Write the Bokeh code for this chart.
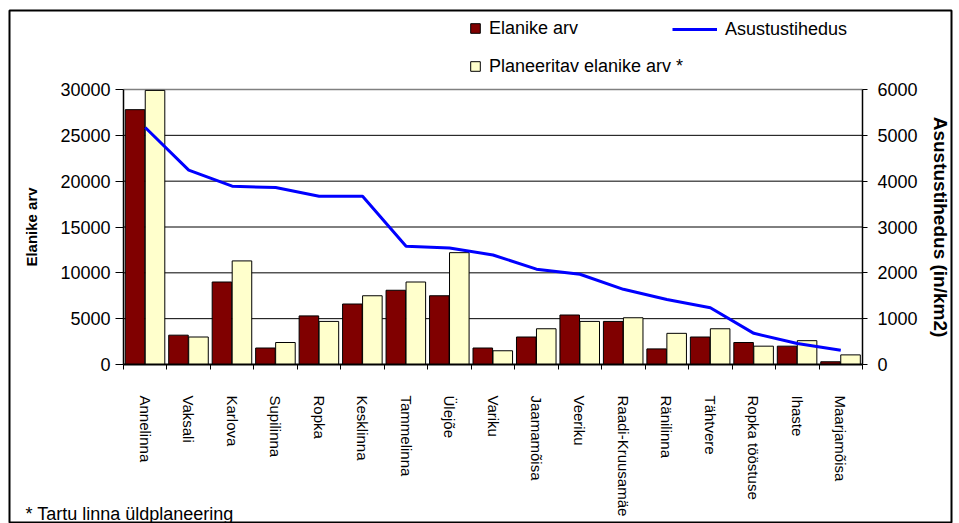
from bokeh.plotting import figure
from bokeh.models import (ColumnDataSource, Range1d, LinearAxis, FixedTicker,
                          Legend, LegendItem, Label)
from bokeh.transform import dodge
from bokeh.embed import file_html
from bokeh.resources import INLINE

categories = ["Annelinna", "Vaksali", "Karlova", "Supilinna", "Ropka", "Kesklinna",
              "Tammelinna", "Ülejõe", "Variku", "Jaamamõisa", "Veeriku",
              "Raadi-Kruusamäe", "Ränilinna", "Tähtvere", "Ropka tööstuse",
              "Ihaste", "Maarjamõisa"]
elanike = [27800, 3200, 9000, 1800, 5300, 6600, 8100, 7500, 1800, 3000, 5400,
           4700, 1700, 3000, 2400, 2000, 300]
planeeritav = [29900, 3000, 11300, 2400, 4700, 7500, 9000, 12200, 1500, 3900, 4700,
               5100, 3400, 3900, 2000, 2600, 1050]
tihedus = [5170, 4240, 3890, 3860, 3670, 3670, 2580, 2540, 2390, 2080, 1970,
           1640, 1420, 1240, 680, 460, 310]
left_ticks = [0, 5000, 10000, 15000, 20000, 25000, 30000]
right_ticks = [0, 1000, 2000, 3000, 4000, 5000, 6000]

FONT = "Liberation Sans"

# ---- layout (pixels in the page) ----
W, H = 959, 523
BOX_L, BOX_T, BOX_R, BOX_B = 9, 10, 951, 523      # outer chart box (= frame)
PL, PR, PT, PB = 123, 862, 89, 364                 # plot area inside the box

n = len(categories)
x_lo, x_hi = -0.5, n - 0.5
ux = (PR - PL) / (x_hi - x_lo)
x_start = x_lo - (PL - BOX_L) / ux
x_end = x_hi + (BOX_R - PR) / ux

ymax_l, ymax_r = left_ticks[-1], right_ticks[-1]
uy_l = (PB - PT) / ymax_l
uy_r = (PB - PT) / ymax_r
y_start = -(BOX_B - PB) / uy_l
y_end = ymax_l + (PT - BOX_T) / uy_l
yr_start = -(BOX_B - PB) / uy_r
yr_end = ymax_r + (PT - BOX_T) / uy_r

src = ColumnDataSource(dict(x=list(range(n)), cat=categories,
                            elanike=elanike, planeeritav=planeeritav, tihedus=tihedus))

p = figure(width=W, height=H, output_backend="svg", toolbar_location=None,
           x_range=Range1d(x_start, x_end), y_range=Range1d(y_start, y_end),
           min_border_left=BOX_L, min_border_right=W - BOX_R,
           min_border_top=BOX_T, min_border_bottom=H - BOX_B,
           x_axis_location=None, y_axis_location=None)
p.extra_y_ranges = {"dens": Range1d(yr_start, yr_end)}
p.background_fill_color = "white"
p.border_fill_color = "white"
p.outline_line_color = "black"
p.outline_line_width = 2
p.xgrid.visible = False
p.ygrid.visible = False

# horizontal grid lines inside the plot area
gsrc = ColumnDataSource(dict(y=left_ticks[1:-1], x0=[x_lo] * (len(left_ticks) - 2),
                             x1=[x_hi] * (len(left_ticks) - 2)))
p.segment(x0="x0", x1="x1", y0="y", y1="y", source=gsrc, line_color="black",
          line_width=1)
p.segment(x0=[x_lo], x1=[x_hi], y0=[ymax_l], y1=[ymax_l], line_color="#808080",
          line_width=1.5)

# bottom axis
xa = LinearAxis(fixed_location=0, bounds=(x_lo, x_hi),
                ticker=FixedTicker(ticks=list(range(n)),
                                   minor_ticks=[i - 0.5 for i in range(n + 1)]))
xa.major_label_overrides = {i: c for i, c in enumerate(categories)}
xa.major_label_orientation = "vertical"
xa.major_tick_line_color = None
xa.major_tick_out = 0
xa.major_tick_in = 0
xa.minor_tick_out = 5
xa.minor_tick_in = 0
xa.minor_tick_line_color = "black"
xa.axis_line_color = "black"
xa.axis_line_width = 2
xa.major_label_standoff = 26
xa.major_label_text_font = FONT
xa.major_label_text_font_size = "15px"
xa.major_label_text_color = "black"
p.add_layout(xa, "below")

# left axis
ya = LinearAxis(fixed_location=x_lo, bounds=(0, ymax_l),
                ticker=FixedTicker(ticks=left_ticks))
ya.major_tick_out = 8
ya.major_tick_in = 0
ya.minor_tick_line_color = None
ya.axis_line_color = "black"
ya.axis_line_width = 1.5
ya.major_tick_line_color = "black"
ya.major_label_standoff = 5
ya.major_label_text_font = FONT
ya.major_label_text_font_size = "18px"
ya.major_label_text_color = "black"
ya.axis_label = "Elanike arv"
ya.axis_label_text_font = FONT
ya.axis_label_text_font_size = "15px"
ya.axis_label_text_font_style = "bold"
ya.axis_label_text_color = "black"
ya.axis_label_standoff = 17
p.add_layout(ya, "left")

# right axis
ra = LinearAxis(y_range_name="dens", fixed_location=x_hi, bounds=(0, ymax_r),
                ticker=FixedTicker(ticks=right_ticks))
ra.major_tick_out = 5
ra.major_tick_in = 0
ra.minor_tick_line_color = None
ra.axis_line_color = "black"
ra.axis_line_width = 1.5
ra.major_label_standoff = 10
ra.major_label_text_font = FONT
ra.major_label_text_font_size = "18px"
ra.major_label_text_color = "black"
ra.axis_label = "Asustustihedus (in/km2)"
ra.axis_label_text_font = FONT
ra.axis_label_text_font_size = "19px"
ra.axis_label_text_font_style = "bold"
ra.axis_label_text_color = "black"
ra.axis_label_standoff = 9
p.add_layout(ra, "right")

# glyphs
r1 = p.vbar(x=dodge("x", -0.235, range=p.x_range), top="elanike", width=0.45,
            source=src, fill_color="#800000", line_color="black", line_width=1)
r2 = p.vbar(x=dodge("x", 0.225, range=p.x_range), top="planeeritav", width=0.45,
            source=src, fill_color="#FFFFCC", line_color="black", line_width=1)
rl = p.line(x="x", y="tihedus", y_range_name="dens", source=src,
            line_color="#0000FF", line_width=3)

def style_legend(lg):
    lg.border_line_color = None
    lg.background_fill_alpha = 0
    lg.padding = 0
    lg.margin = 0
    lg.label_text_font = FONT
    lg.label_text_font_size = "18px"
    lg.label_text_color = "black"
    lg.label_standoff = 8
    lg.label_height = 20
    lg.glyph_height = 12
    lg.spacing = 17

LEG_TOP = 19.5
leg1 = Legend(items=[LegendItem(label="Elanike arv", renderers=[r1]),
                     LegendItem(label="Planeeritav elanike arv *", renderers=[r2])],
              location=(469 - BOX_L, BOX_B - LEG_TOP - 57))
style_legend(leg1)
leg1.glyph_width = 12
leg2 = Legend(items=[LegendItem(label="Asustustihedus", renderers=[rl])],
              location=(672 - BOX_L, BOX_B - LEG_TOP - 20))
style_legend(leg2)
leg2.glyph_width = 45
p.add_layout(leg1)
p.add_layout(leg2)

note = Label(x=25 - BOX_L, y=BOX_B - 513, x_units="screen", y_units="screen",
             text="* Tartu linna üldplaneering", text_font=FONT,
             text_font_size="18px", text_color="black", text_baseline="alphabetic")
p.add_layout(note)

open("out.html", "w").write(file_html(p, INLINE))
